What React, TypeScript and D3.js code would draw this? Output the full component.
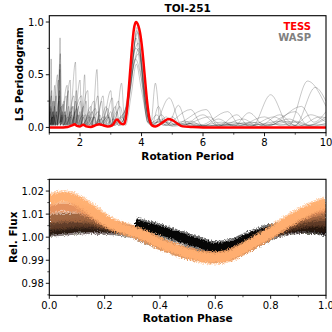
import React from 'react';
import * as d3 from 'd3';

const FONT = '"DejaVu Sans", sans-serif';

// ---- top panel: LS periodograms ----
const tessPeriod = [1.0, 1.3, 1.6, 1.75, 1.82, 1.9, 2.0, 2.1, 2.2, 2.35, 2.5, 2.62, 2.75, 2.9, 3.05, 3.2, 3.32, 3.4, 3.45, 3.52, 3.6, 3.68, 3.75, 3.82, 3.9, 3.95, 4.02, 4.1, 4.18, 4.26, 4.34, 4.45, 4.6, 4.75, 4.87, 5.0, 5.15, 5.34, 5.6, 6.0, 7.0, 8.0, 9.0, 10.0];
const tessPower = [0.0, 0.0, 0.005, 0.02, 0.03, 0.015, 0.01, 0.025, 0.01, 0.005, 0.02, 0.03, 0.02, 0.01, 0.02, 0.075, 0.04, 0.03, 0.04, 0.15, 0.42, 0.72, 0.93, 1.0, 0.96, 0.9, 0.75, 0.5, 0.25, 0.08, 0.02, 0.01, 0.03, 0.06, 0.08, 0.07, 0.04, 0.01, 0.005, 0.0, 0.0, 0.0, 0.0, 0.0];

const wasp1: [number, number][] = [[1.0, 0.1], [1.03, 0.02], [1.06, 0.65], [1.09, 0.03], [1.15, 0.12], [1.2, 0.02], [1.3, 0.08], [1.35, 0.85], [1.39, 0.05], [1.5, 0.15], [1.55, 0.03], [1.7, 0.1], [1.76, 0.02], [1.85, 0.25], [1.9, 0.03], [2.1, 0.12], [2.2, 0.02], [2.5, 0.18], [2.6, 0.02], [2.9, 0.1], [3.05, 0.02], [3.3, 0.2], [3.45, 0.05], [3.7, 0.6], [3.85, 0.92], [4.0, 0.55], [4.2, 0.05], [4.5, 0.02], [4.8, 0.1], [5.1, 0.02], [5.6, 0.06], [6.0, 0.01], [7.0, 0.05], [7.6, 0.01], [8.2, 0.31], [8.8, 0.02], [9.4, 0.44], [10, 0.2]];
const wasp2: [number, number][] = [[1.0, 0.05], [1.05, 0.2], [1.08, 0.02], [1.18, 0.4], [1.21, 0.03], [1.33, 0.3], [1.36, 0.05], [1.45, 0.22], [1.5, 0.02], [1.62, 0.35], [1.66, 0.03], [1.85, 0.62], [1.9, 0.04], [2.0, 0.15], [2.05, 0.02], [2.3, 0.1], [2.4, 0.02], [2.55, 0.55], [2.62, 0.03], [2.85, 0.2], [2.95, 0.02], [3.2, 0.12], [3.35, 0.42], [3.45, 0.05], [3.65, 0.5], [3.82, 0.85], [3.98, 0.5], [4.2, 0.08], [4.4, 0.02], [4.9, 0.28], [5.3, 0.02], [6.2, 0.1], [6.6, 0.02], [7.3, 0.08], [7.8, 0.01], [8.5, 0.12], [9.0, 0.02], [9.65, 0.38], [10, 0.25]];
const wasp3: [number, number][] = [[1.0, 0.02], [1.08, 0.35], [1.1, 0.02], [1.25, 0.15], [1.28, 0.02], [1.35, 0.6], [1.38, 0.03], [1.55, 0.3], [1.6, 0.02], [1.75, 0.2], [1.8, 0.02], [2.0, 0.45], [2.05, 0.03], [2.15, 0.5], [2.2, 0.03], [2.4, 0.15], [2.5, 0.02], [2.75, 0.3], [2.82, 0.02], [3.0, 0.15], [3.1, 0.02], [3.4, 0.1], [3.55, 0.3], [3.75, 0.7], [3.9, 0.8], [4.05, 0.4], [4.3, 0.03], [4.45, 0.42], [4.62, 0.03], [4.85, 0.02], [5.2, 0.21], [5.5, 0.02], [5.9, 0.02], [6.8, 0.15], [7.2, 0.02], [7.8, 0.05], [8.1, 0.01], [9.2, 0.2], [9.6, 0.05], [10, 0.15]];
const wasp4: [number, number][] = [[1.0, 0.15], [1.04, 0.03], [1.12, 0.25], [1.15, 0.03], [1.3, 0.45], [1.33, 0.04], [1.42, 0.12], [1.47, 0.02], [1.68, 0.45], [1.72, 0.03], [1.9, 0.18], [1.95, 0.02], [2.25, 0.35], [2.3, 0.02], [2.45, 0.1], [2.55, 0.02], [2.7, 0.25], [2.78, 0.02], [3.05, 0.28], [3.12, 0.02], [3.3, 0.08], [3.5, 0.2], [3.7, 0.65], [3.88, 0.9], [4.05, 0.5], [4.25, 0.05], [4.5, 0.12], [4.7, 0.02], [5.6, 0.17], [6.0, 0.01], [6.5, 0.08], [7.0, 0.01], [7.5, 0.14], [8.0, 0.02], [9.0, 0.15], [9.4, 0.02], [10, 0.1]];
const wasp5: [number, number][] = [[1.0, 0.3], [1.02, 0.02], [1.1, 0.1], [1.14, 0.02], [1.22, 0.3], [1.25, 0.02], [1.36, 0.7], [1.4, 0.03], [1.52, 0.15], [1.56, 0.02], [1.8, 0.3], [1.84, 0.02], [1.95, 0.2], [2.0, 0.02], [2.2, 0.25], [2.26, 0.02], [2.6, 0.15], [2.66, 0.02], [2.9, 0.18], [2.98, 0.02], [3.25, 0.25], [3.35, 0.05], [3.6, 0.35], [3.8, 0.75], [3.95, 0.7], [4.1, 0.3], [4.3, 0.02], [4.7, 0.08], [5.0, 0.02], [6.1, 0.17], [6.5, 0.01], [7.6, 0.05], [8.0, 0.01], [8.8, 0.08], [9.3, 0.01], [10, 0.08]];
const wasp6: [number, number][] = [[1.0, 0.05], [1.15, 0.1], [1.2, 0.02], [1.4, 0.2], [1.45, 0.02], [1.6, 0.1], [1.65, 0.02], [2.05, 0.3], [2.1, 0.02], [2.35, 0.2], [2.42, 0.02], [2.8, 0.1], [2.9, 0.02], [3.15, 0.2], [3.25, 0.02], [3.5, 0.15], [3.72, 0.55], [3.9, 0.7], [4.1, 0.35], [4.35, 0.04], [4.55, 0.2], [4.75, 0.03], [5.0, 0.1], [5.3, 0.01], [6.0, 0.12], [6.5, 0.01], [7.1, 0.12], [7.5, 0.01], [8.3, 0.1], [8.9, 0.01], [9.5, 0.12], [10, 0.05]];
const wasp7: [number, number][] = [[1.0, 0.08], [1.07, 0.3], [1.1, 0.02], [1.27, 0.5], [1.3, 0.03], [1.48, 0.25], [1.52, 0.02], [1.72, 0.15], [1.77, 0.02], [1.88, 0.35], [1.93, 0.02], [2.12, 0.2], [2.18, 0.02], [2.45, 0.25], [2.52, 0.02], [2.65, 0.12], [2.72, 0.02], [3.0, 0.35], [3.08, 0.02], [3.3, 0.1], [3.45, 0.15], [3.68, 0.45], [3.85, 0.95], [4.02, 0.6], [4.2, 0.1], [4.4, 0.03], [4.65, 0.12], [4.9, 0.02], [5.4, 0.06], [5.8, 0.01], [6.6, 0.05], [7.1, 0.01], [8.0, 0.1], [8.5, 0.02], [9.0, 0.05], [9.5, 0.01], [10, 0.04]];
const wasp8: [number, number][] = [[1.0, 0.2], [1.03, 0.02], [1.13, 0.15], [1.17, 0.02], [1.32, 0.25], [1.35, 0.02], [1.58, 0.4], [1.62, 0.02], [1.78, 0.2], [1.82, 0.02], [2.02, 0.25], [2.08, 0.02], [2.32, 0.15], [2.38, 0.02], [2.58, 0.3], [2.65, 0.02], [2.92, 0.12], [3.0, 0.02], [3.2, 0.15], [3.3, 0.02], [3.5, 0.1], [3.75, 0.6], [3.92, 0.75], [4.08, 0.35], [4.3, 0.04], [4.55, 0.08], [4.8, 0.02], [5.5, 0.04], [6.0, 0.01], [6.8, 0.03], [7.3, 0.01], [8.6, 0.06], [9.1, 0.01], [9.8, 0.1], [10, 0.09]];
const wasp9: [number, number][] = [[1.0, 0.12], [1.02, 0.03], [1.05, 0.18], [1.07, 0.02], [1.11, 0.15], [1.13, 0.02], [1.17, 0.2], [1.19, 0.02], [1.24, 0.12], [1.26, 0.02], [1.31, 0.18], [1.34, 0.55], [1.37, 0.02], [1.41, 0.1], [1.44, 0.02], [1.49, 0.12], [1.53, 0.02], [1.58, 0.1], [1.63, 0.2], [1.67, 0.02], [1.73, 0.12], [1.78, 0.02], [1.83, 0.15], [1.87, 0.02], [1.97, 0.12], [2.03, 0.02], [2.1, 0.1], [2.16, 0.02], [2.28, 0.12], [2.34, 0.02], [2.48, 0.1], [2.55, 0.02], [2.7, 0.08], [2.8, 0.02], [3.1, 0.08], [3.25, 0.02], [3.55, 0.2], [3.8, 0.65], [4.0, 0.45], [4.2, 0.05], [4.6, 0.05], [5.2, 0.03], [6.0, 0.02], [7.0, 0.02], [8.0, 0.03], [9.0, 0.02], [10, 0.03]];
const wasp10: [number, number][] = [[1.0, 0.05], [1.03, 0.15], [1.06, 0.02], [1.09, 0.1], [1.12, 0.02], [1.16, 0.25], [1.19, 0.02], [1.23, 0.15], [1.27, 0.02], [1.33, 0.35], [1.36, 0.02], [1.43, 0.15], [1.47, 0.02], [1.54, 0.12], [1.58, 0.02], [1.66, 0.15], [1.7, 0.02], [1.81, 0.1], [1.86, 0.02], [1.92, 0.12], [1.98, 0.02], [2.18, 0.12], [2.24, 0.02], [2.38, 0.1], [2.44, 0.02], [2.62, 0.08], [2.7, 0.02], [2.95, 0.1], [3.05, 0.02], [3.38, 0.1], [3.48, 0.02], [3.66, 0.3], [3.83, 0.6], [4.0, 0.35], [4.25, 0.03], [4.7, 0.06], [5.0, 0.01], [5.7, 0.04], [6.2, 0.01], [7.3, 0.04], [7.8, 0.01], [9.0, 0.06], [9.6, 0.01], [10, 0.02]];
const waspCurves = [wasp1, wasp2, wasp3, wasp4, wasp5, wasp6, wasp7, wasp8, wasp9, wasp10];

const periodTicks = [2, 4, 6, 8, 10];
const periodMinor = [1, 3, 5, 7, 9];
const powerTicks = [0, 0.5, 1.0];
const powerMinor = [0.25, 0.75];

// ---- bottom panel: phase-folded light curves, one band per season ----
const season1: [number, number][] = [[0.31, 1.0058], [0.35, 1.0045], [0.4, 1.003], [0.45, 1.001], [0.5, 0.999], [0.55, 0.997], [0.6, 0.9955], [0.65, 0.9962], [0.7, 0.9985], [0.75, 1.001], [0.8, 1.003], [0.85, 1.004], [0.9, 1.0045], [0.95, 1.0042], [1.0, 1.0032]];
const season2: [number, number][] = [[0, 1.0025], [0.05, 1.003], [0.1, 1.0035], [0.15, 1.0038], [0.2, 1.0035], [0.25, 1.003], [0.3, 1.002], [0.35, 0.9995], [0.4, 0.997], [0.45, 0.9948], [0.5, 0.993], [0.55, 0.9918], [0.6, 0.9912], [0.65, 0.9922], [0.7, 0.9948], [0.75, 0.998], [0.8, 1.001], [0.85, 1.003], [0.9, 1.0038], [0.95, 1.004], [1.0, 1.0035]];
const season3: [number, number][] = [[0, 1.005], [0.05, 1.0055], [0.1, 1.006], [0.15, 1.0062], [0.2, 1.005], [0.25, 1.004], [0.3, 1.0025], [0.35, 1.0], [0.4, 0.9975], [0.45, 0.9952], [0.5, 0.9935], [0.55, 0.992], [0.6, 0.9915], [0.65, 0.9925], [0.7, 0.995], [0.75, 0.998], [0.8, 1.0015], [0.85, 1.004], [0.9, 1.0058], [0.95, 1.0065], [1.0, 1.0065]];
const season4: [number, number][] = [[0, 1.008], [0.05, 1.0085], [0.1, 1.0085], [0.15, 1.008], [0.2, 1.006], [0.25, 1.0042], [0.3, 1.0025], [0.35, 1.0], [0.4, 0.9972], [0.45, 0.995], [0.5, 0.9932], [0.55, 0.992], [0.6, 0.9915], [0.65, 0.9925], [0.7, 0.995], [0.75, 0.998], [0.8, 1.0018], [0.85, 1.005], [0.9, 1.0075], [0.95, 1.009], [1.0, 1.0095]];
const season5: [number, number][] = [[0, 1.012], [0.05, 1.013], [0.1, 1.0125], [0.15, 1.0105], [0.2, 1.0072], [0.25, 1.0045], [0.3, 1.0025], [0.35, 1.0002], [0.4, 0.9972], [0.45, 0.995], [0.5, 0.993], [0.55, 0.9916], [0.6, 0.9912], [0.65, 0.992], [0.7, 0.9948], [0.75, 0.998], [0.8, 1.0018], [0.85, 1.0055], [0.9, 1.009], [0.95, 1.011], [1.0, 1.0125]];
const season6: [number, number][] = [[0, 1.016], [0.05, 1.0175], [0.1, 1.016], [0.15, 1.012], [0.2, 1.0075], [0.25, 1.0045], [0.3, 1.0025], [0.35, 1.0002], [0.4, 0.9972], [0.45, 0.995], [0.5, 0.993], [0.55, 0.9915], [0.6, 0.991], [0.65, 0.992], [0.7, 0.995], [0.75, 0.9985], [0.8, 1.002], [0.85, 1.006], [0.9, 1.0095], [0.95, 1.0125], [1.0, 1.015]];
const seasons = [season1, season2, season3, season4, season5, season6];
const seasonLevel = [0.0, 0.12, 0.3, 0.5, 0.72, 0.88];

const phaseTicks = [0, 0.2, 0.4, 0.6, 0.8, 1.0];
const phaseMinor = [0.1, 0.3, 0.5, 0.7, 0.9];
const fluxTicks = [0.98, 0.99, 1.0, 1.01, 1.02];
const fluxMinor = [0.975, 0.985, 0.995, 1.005, 1.015, 1.025];

// matplotlib 'copper'
const copper = (t: number) =>
  d3.rgb(Math.min(1, 1.25 * t) * 255, 0.7812 * t * 255, 0.4975 * t * 255).formatHex();

const L = 49.3, R = 326;
const top = { t: 15.7, b: 132.7 };
const bot = { t: 179.3, b: 295.3 };

function Axes({ x, y, xt, xm, yt, ym, xfmt, yfmt, t, b }: any) {
  return (
    <g fontFamily={FONT} fontSize={10} fill="#000">
      <rect x={L} y={t} width={R - L} height={b - t} fill="none" stroke="#000" strokeWidth={1.1} />
      {xt.map((v: number) => (
        <g key={'xt' + v}>
          <line x1={x(v)} x2={x(v)} y1={b} y2={b + 3.5} stroke="#000" strokeWidth={0.9} />
          <text x={x(v)} y={b + 13.5} textAnchor="middle">{xfmt(v)}</text>
        </g>
      ))}
      {xm.map((v: number) => (
        <line key={'xm' + v} x1={x(v)} x2={x(v)} y1={b} y2={b + 2} stroke="#000" strokeWidth={0.7} />
      ))}
      {yt.map((v: number) => (
        <g key={'yt' + v}>
          <line x1={L - 3.5} x2={L} y1={y(v)} y2={y(v)} stroke="#000" strokeWidth={0.9} />
          <text x={L - 5.5} y={y(v)} dy="0.35em" textAnchor="end">{yfmt(v)}</text>
        </g>
      ))}
      {ym.map((v: number) => (
        <line key={'ym' + v} x1={L - 2} x2={L} y1={y(v)} y2={y(v)} stroke="#000" strokeWidth={0.7} />
      ))}
    </g>
  );
}

export default function App() {
  const xP = d3.scaleLinear().domain([1, 10]).range([L, R]);
  const yP = d3.scaleLinear().domain([-0.05, 1.06]).range([top.b, top.t]);
  const xF = d3.scaleLinear().domain([0, 1]).range([L, R]);
  const yF = d3.scaleLinear().domain([0.9748, 1.0251]).range([bot.b, bot.t]);

  const waspLine = d3.line<[number, number]>()
    .x(d => xP(d[0])).y(d => yP(d[1]))
    .curve(d3.curveMonotoneX);
  const tessLine = d3.line<number>()
    .x((_, i) => xP(tessPeriod[i])).y(d => yP(d))
    .curve(d3.curveMonotoneX);
  const bandLine = d3.line<[number, number]>()
    .x(d => xF(d[0])).y(d => yF(d[1]))
    .curve(d3.curveMonotoneX);

  const midX = (L + R) / 2;

  return (
    <div style={{ position: 'fixed', left: 0, top: 0 }}>
      <svg width={332} height={332} style={{ display: 'block', background: '#fff' }}>
        <defs>
          <clipPath id="clipTop"><rect x={L} y={top.t} width={R - L} height={top.b - top.t} /></clipPath>
          <clipPath id="clipBot"><rect x={L} y={bot.t} width={R - L} height={bot.b - bot.t} /></clipPath>
          <filter id="fuzz" x="-5%" y="-20%" width="110%" height="140%">
            <feTurbulence type="fractalNoise" baseFrequency="0.7" numOctaves={2} seed={4} result="n" />
            <feDisplacementMap in="SourceGraphic" in2="n" scale={5} xChannelSelector="R" yChannelSelector="G" />
          </filter>
        </defs>

        {/* title */}
        <text x={midX} y={11.5} textAnchor="middle" fontFamily={FONT} fontSize={10.5} fontWeight="bold">TOI-251</text>

        {/* periodograms */}
        <g clipPath="url(#clipTop)">
          {waspCurves.map((c, i) => (
            <path key={i} d={waspLine(c) || ''} fill="none" stroke="#000" strokeOpacity={0.26} strokeWidth={0.85} />
          ))}
          <path d={tessLine(tessPower) || ''} fill="none" stroke="#ff0000" strokeWidth={2.5} strokeLinejoin="round" />
        </g>
        <Axes x={xP} y={yP} xt={periodTicks} xm={periodMinor} yt={powerTicks} ym={powerMinor}
          xfmt={(v: number) => String(v)} yfmt={(v: number) => v.toFixed(1)} t={top.t} b={top.b} />
        <text x={311} y={29.7} textAnchor="end" fontFamily={FONT} fontSize={10} fontWeight="bold" fill="#ff0000">TESS</text>
        <text x={311} y={41.3} textAnchor="end" fontFamily={FONT} fontSize={10} fontWeight="bold" fill="#808080">WASP</text>
        <text x={midX} y={159.5} textAnchor="middle" fontFamily={FONT} fontSize={10.5} fontWeight="bold">Rotation Period</text>
        <text transform={`translate(23,${(top.t + top.b) / 2}) rotate(-90)`} textAnchor="middle" fontFamily={FONT} fontSize={10.5} fontWeight="bold">LS Periodogram</text>

        {/* phase-folded light curves */}
        <g clipPath="url(#clipBot)">
          <g filter="url(#fuzz)">
            {seasons.map((s, i) => (
              <g key={i}>
                <path d={bandLine(s) || ''} fill="none" stroke={copper(seasonLevel[i])} strokeOpacity={0.55} strokeWidth={i === 0 || i === 5 ? 13 : 11} />
                <path d={bandLine(s) || ''} fill="none" stroke={copper(seasonLevel[i])} strokeOpacity={0.95} strokeWidth={i === 0 || i === 5 ? 9 : 7} />
              </g>
            ))}
          </g>
        </g>
        <Axes x={xF} y={yF} xt={phaseTicks} xm={phaseMinor} yt={fluxTicks} ym={fluxMinor}
          xfmt={(v: number) => v.toFixed(1)} yfmt={(v: number) => v.toFixed(2)} t={bot.t} b={bot.b} />
        <text x={midX} y={321.5} textAnchor="middle" fontFamily={FONT} fontSize={10.5} fontWeight="bold">Rotation Phase</text>
        <text transform={`translate(16.5,${(bot.t + bot.b) / 2}) rotate(-90)`} textAnchor="middle" fontFamily={FONT} fontSize={10.5} fontWeight="bold">Rel. Flux</text>
      </svg>
    </div>
  );
}
